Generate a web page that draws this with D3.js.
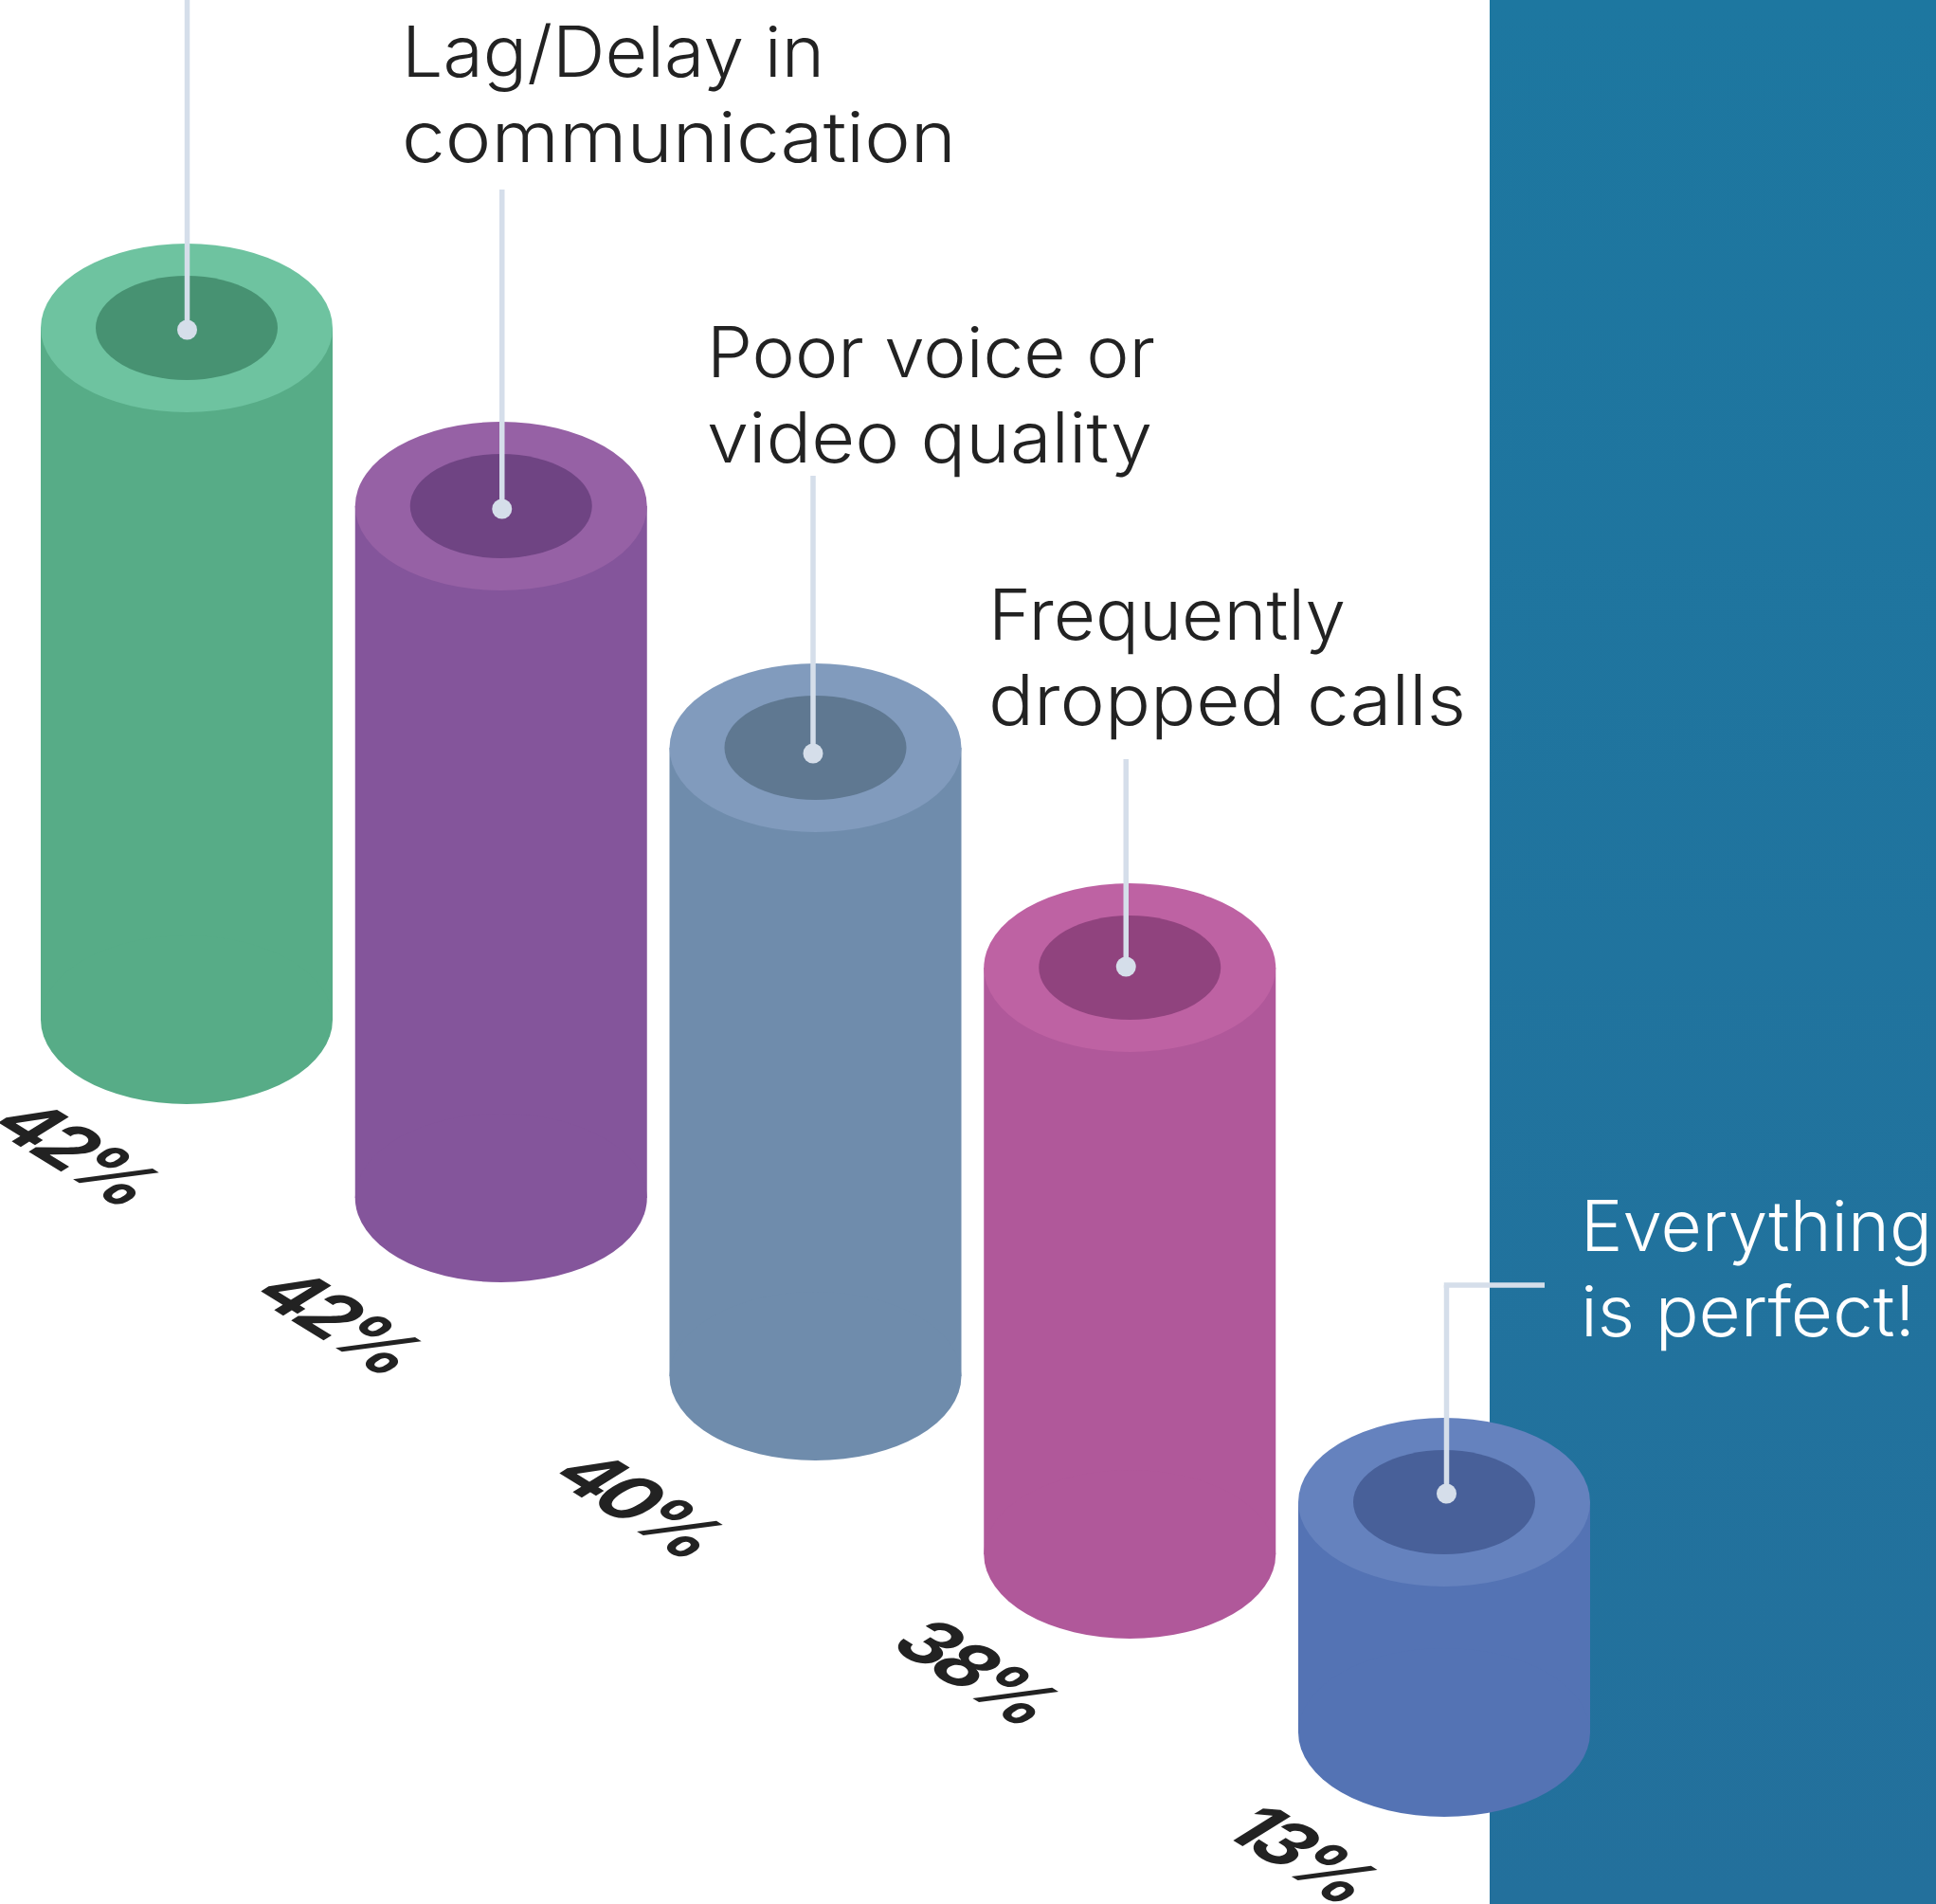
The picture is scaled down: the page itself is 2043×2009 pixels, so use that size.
<!DOCTYPE html>
<html>
<head>
<meta charset="utf-8">
<script src="https://cdn.jsdelivr.net/npm/d3@7"></script>
<style>
  html, body { margin: 0; padding: 0; background: #fff; overflow: hidden; }
  svg { display: block; }
</style>
</head>
<body>
<div id="chart"></div>
<script>
// datos
const categories = ["(cut off)", "Lag/Delay", "Poor quality", "Dropped calls", "Perfect"];
const values = [42, 42, 40, 38, 13];
const valueLabels = ["42%", "42%", "40%", "38%", "13%"];
const captionLines = [
  [],
  ["Lag/Delay in", "communication"],
  ["Poor voice or", "video quality"],
  ["Frequently", "dropped calls"],
  ["Everything", "is perfect!"]
];
const sideColors = ["#57ac87", "#84559b", "#6f8cac", "#b0589a", "#5473b4"];
const topColors = ["#6ec3a0", "#9661a5", "#819bbd", "#be62a3", "#6582be"];
const innerColors = ["#479272", "#6f4483", "#5f7891", "#90437e", "#486099"];

const width = 2043;
const height = 2009;
const rx = 154, ry = 89, innerRx = 96, innerRy = 55;
const data = categories.map((c, i) => ({ c, i, v: values[i] }));

const svg = d3.select("#chart").append("svg")
  .attr("width", width)
  .attr("height", height);

// fondo azul a la derecha
const grad = svg.append("defs").append("linearGradient")
  .attr("id", "panel")
  .attr("x1", 0).attr("y1", 0).attr("x2", 0).attr("y2", 1);
grad.append("stop").attr("offset", 0).attr("stop-color", "#1d77a0");
grad.append("stop").attr("offset", 1).attr("stop-color", "#23709c");

svg.append("rect")
  .attr("x", 1572).attr("y", 0)
  .attr("width", width - 1572).attr("height", height)
  .attr("fill", "url(#panel)");

// escaladores: las columnas bajan en escalera
const x = d3.scalePoint().domain(categories).range([197, 1524]);
const base = d3.scalePoint().domain(categories).range([1076, 1828]);
const h = d3.scaleLinear().domain([13, 38, 40, 42]).range([243, 619, 663, 730]);
const topY = (d) => base(d.c) - h(d.v);

const cyl = svg.selectAll("g.cyl").data(data).join("g").attr("class", "cyl");

cyl.append("rect")
  .attr("x", (d) => x(d.c) - rx)
  .attr("y", topY)
  .attr("width", rx * 2)
  .attr("height", (d) => h(d.v))
  .attr("fill", (d) => sideColors[d.i]);

cyl.append("ellipse")
  .attr("cx", (d) => x(d.c)).attr("cy", (d) => base(d.c))
  .attr("rx", rx).attr("ry", ry)
  .attr("fill", (d) => sideColors[d.i]);

cyl.append("ellipse")
  .attr("cx", (d) => x(d.c)).attr("cy", topY)
  .attr("rx", rx).attr("ry", ry)
  .attr("fill", (d) => topColors[d.i]);

cyl.append("ellipse")
  .attr("cx", (d) => x(d.c)).attr("cy", topY)
  .attr("rx", innerRx).attr("ry", innerRy)
  .attr("fill", (d) => innerColors[d.i]);

// lineas guia con su punto
const leaderStart = [0, 200, 502, 801, 1356];
const leaderDx = [0.5, 1, -2.5, -4, 2.5];
const leaderDy = [2, 3, 6, -1, -9];
const leaderColor = "#d5deea";

const leader = svg.selectAll("g.leader").data(data).join("g").attr("class", "leader");

leader.append("line")
  .attr("x1", (d) => x(d.c) + leaderDx[d.i])
  .attr("x2", (d) => x(d.c) + leaderDx[d.i])
  .attr("y1", (d) => leaderStart[d.i])
  .attr("y2", (d) => topY(d) + leaderDy[d.i])
  .attr("stroke", leaderColor)
  .attr("stroke-width", 5.5);

leader.append("circle")
  .attr("cx", (d) => x(d.c) + leaderDx[d.i])
  .attr("cy", (d) => topY(d) + leaderDy[d.i])
  .attr("r", 10.5)
  .attr("fill", leaderColor);

// tramo horizontal de la ultima guia
svg.append("line")
  .attr("x1", x(categories[4]) + leaderDx[4] - 2.75)
  .attr("x2", 1630)
  .attr("y1", 1356).attr("y2", 1356)
  .attr("stroke", leaderColor)
  .attr("stroke-width", 5.5);

// textos de cada columna
const captionX = [0, 424, 746, 1043, 1668];
const captionY = [0, 81, 398, 675, 1320];
const captionW = [[], [446, 585], [473, 470], [377, 504], [371, 353]];

cyl.each(function (d) {
  d3.select(this.parentNode).selectAll(null)
    .data(captionLines[d.i])
    .join("text")
    .attr("x", captionX[d.i])
    .attr("y", (t, j) => captionY[d.i] + j * 89.5)
    .attr("textLength", (t, j) => captionW[d.i][j])
    .attr("lengthAdjust", "spacingAndGlyphs")
    .attr("font-family", "Inter")
    .attr("font-weight", 300)
    .attr("font-size", 74)
    .attr("fill", d.i === 4 ? "#ffffff" : "#222222")
    .text((t) => t);
});

// porcentajes tumbados en el suelo (isometrico)
const labelX = [-14, 263, 578, 936, 1287];
const labelY = [1188, 1366, 1558, 1736, 1933];

svg.selectAll("text.pct").data(data).join("text")
  .attr("class", "pct")
  .attr("transform", (d) => `matrix(0.81,0.5,-0.85,0.53,${labelX[d.i]},${labelY[d.i]})`)
  .attr("font-family", "Inter")
  .attr("font-weight", 700)
  .attr("font-size", 82)
  .attr("letter-spacing", "-0.07em")
  .attr("fill", "#222222")
  .text((d) => valueLabels[d.i]);
</script>
</body>
</html>
